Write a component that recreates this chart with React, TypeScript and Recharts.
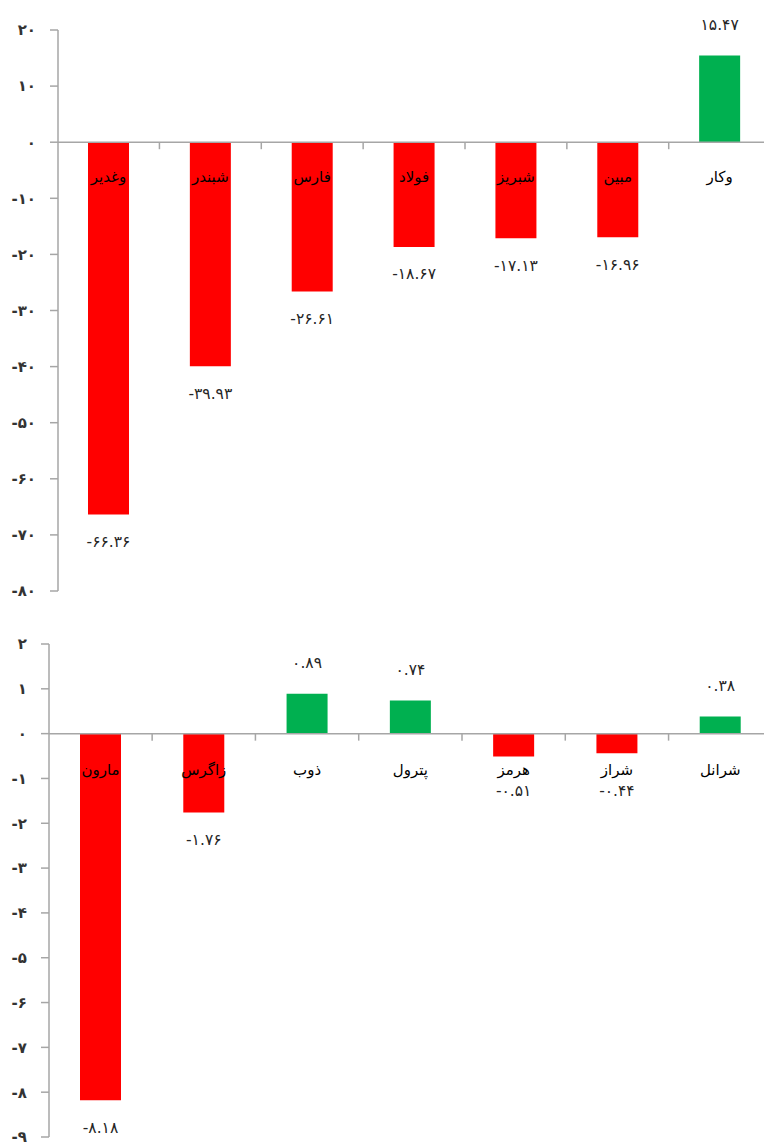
import React from 'react';
import { BarChart, Bar, XAxis, YAxis, Cell, ReferenceLine, LabelList } from 'recharts';

const topCategories = ['وغدیر', 'شبندر', 'فارس', 'فولاد', 'شبریز', 'مبین', 'وکار'];
const topValues = [-66.36, -39.93, -26.61, -18.67, -17.13, -16.96, 15.47];
const topTicks = [20, 10, 0, -10, -20, -30, -40, -50, -60, -70, -80];

const bottomCategories = ['مارون', 'زاگرس', 'ذوب', 'پترول', 'هرمز', 'شراز', 'شرانل'];
const bottomValues = [-8.18, -1.76, 0.89, 0.74, -0.51, -0.44, 0.38];
const bottomTicks = [2, 1, 0, -1, -2, -3, -4, -5, -6, -7, -8, -9];

const RED = '#FF0000';
const GREEN = '#00B050';
const AXIS = '#A6A6A6';
const FONT = '"DejaVu Sans", sans-serif';

const faDigits = ['۰', '۱', '۲', '۳', '۴', '۵', '۶', '۷', '۸', '۹'];
const toFa = (s: string) => s.replace(/[0-9]/g, (d) => faDigits[Number(d)]);
const fmtTick = (v: number) => toFa(String(v));
const fmtVal = (v: number) => toFa(v.toFixed(2));

function geom(props: any, v: number) {
  const vb = props.viewBox || {};
  const x = props.x ?? vb.x;
  const y = props.y ?? vb.y;
  const w = props.width ?? vb.width;
  const h = props.height ?? vb.height;
  const y1 = y;
  const y2 = y + h;
  const zero = v < 0 ? Math.min(y1, y2) : Math.max(y1, y2);
  const end = v < 0 ? Math.max(y1, y2) : Math.min(y1, y2);
  return { cx: x + w / 2, zero, end };
}

function makeCatLabel(values: number[], band: number, dy: number) {
  return (props: any) => {
    const i = props.index;
    const v = values[i];
    const { cx, zero } = geom(props, v);
    return (
      <g>
        {i > 0 && (
          <line x1={cx - band / 2} x2={cx - band / 2} y1={zero} y2={zero + 7} stroke={AXIS} strokeWidth={1.5} />
        )}
        <text x={cx} y={zero + dy} textAnchor="middle" dominantBaseline="middle" fontFamily={FONT} fontSize={15} fill="#000">
          {props.value}
        </text>
      </g>
    );
  };
}

function makeValLabel(values: number[], minBelow: number) {
  return (props: any) => {
    const i = props.index;
    const v = values[i];
    const { cx, zero, end } = geom(props, v);
    const ty = v < 0 ? Math.max(end + 28, zero + minBelow) : end - 30;
    return (
      <text x={cx} y={ty} textAnchor="middle" dominantBaseline="middle" fontFamily={FONT} fontSize={15.5} fill="#262626" letterSpacing={0.5}>
        {fmtVal(v)}
      </text>
    );
  };
}

function Panel(props: {
  categories: string[];
  values: number[];
  ticks: number[];
  height: number;
  margin: any;
  axisW: number;
  band: number;
  catDy: number;
}) {
  const { categories, values, ticks, height, margin, axisW, band, catDy } = props;
  const data = categories.map((name, i) => ({ name, value: values[i] }));
  const lo = ticks[ticks.length - 1];
  const hi = ticks[0];
  return (
    <BarChart width={780} height={height} data={data} margin={margin} barSize={41}>
      <XAxis dataKey="name" hide />
      <YAxis
        width={axisW}
        domain={[lo, hi]}
        ticks={ticks}
        interval={0}
        allowDataOverflow
        tickFormatter={fmtTick}
        axisLine={{ stroke: AXIS, strokeWidth: 1.5 }}
        tickLine={{ stroke: AXIS, strokeWidth: 1.5 }}
        tickSize={8}
        tickMargin={14}
        tick={{ fontFamily: FONT, fontSize: 15, fill: '#333', fontWeight: 'bold' }}
      />
      <ReferenceLine y={0} stroke={AXIS} strokeWidth={1.5} />
      <Bar dataKey="value" isAnimationActive={false}>
        {values.map((v, i) => (
          <Cell key={i} fill={v < 0 ? RED : GREEN} />
        ))}
        <LabelList dataKey="name" content={makeCatLabel(values, band, catDy)} />
        <LabelList dataKey="value" content={makeValLabel(values, catDy + 21)} />
      </Bar>
    </BarChart>
  );
}

export default function App() {
  return (
    <div style={{ position: 'fixed', top: 0, left: 0, width: 764, height: 1142, overflow: 'hidden', background: '#fff' }}>
      <div style={{ position: 'absolute', top: 0, left: 0 }}>
        <Panel
          categories={topCategories}
          values={topValues}
          ticks={topTicks}
          height={610}
          margin={{ top: 30, right: 9, bottom: 19, left: 0 }}
          axisW={58}
          band={(771 - 58) / 7}
          catDy={35}
        />
      </div>
      <div style={{ position: 'absolute', top: 610, left: 0 }}>
        <Panel
          categories={bottomCategories}
          values={bottomValues}
          ticks={bottomTicks}
          height={560}
          margin={{ top: 34, right: 8, bottom: 33, left: 0 }}
          axisW={49}
          band={(772 - 49) / 7}
          catDy={37}
        />
      </div>
    </div>
  );
}
